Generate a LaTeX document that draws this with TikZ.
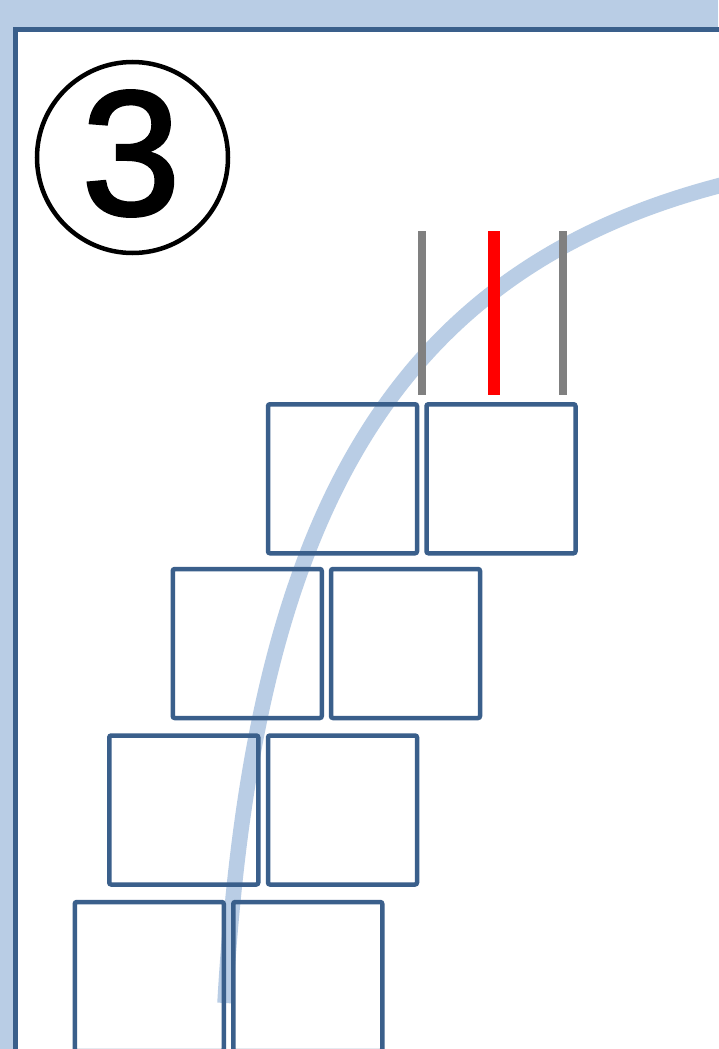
\documentclass[tikz,border=0pt]{standalone}
\usepackage{fontspec}
\setmainfont{Liberation Sans}
\newfontfamily\numfont{Liberation Sans}[FakeBold=2]
\definecolor{bgblue}{HTML}{B9CDE5}
\definecolor{frameblue}{HTML}{3A5F8B}
\definecolor{arcblue}{HTML}{B9CDE5}
\definecolor{markgray}{HTML}{808080}
\begin{document}
\begin{tikzpicture}[x=1pt,y=-1pt,
  cell/.style={draw=frameblue,line width=4.5pt,rounded corners=2pt,minimum size=149pt,inner sep=0pt,outer sep=0pt},
  graymark/.style={line width=8pt,draw=markgray},
  redmark/.style={line width=12pt,draw=red},
  arcband/.style={line width=15.5pt,draw=arcblue,line cap=butt}]
\useasboundingbox (0,0) rectangle (718,1049);
\fill[bgblue] (0,0) rectangle (718,1049);
\filldraw[fill=white,draw=frameblue,line width=5.5pt] (15.5,29.5) rectangle (780,1120);
% circled number
\draw[line width=4.5pt] (132.5,157.5) circle[radius=95.5pt];
\node[inner sep=0pt,font=\numfont\fontsize{177}{177}\selectfont] (num) at (131,153.5) {3};
% arc
\coordinate (arcS) at (225,1003);
\coordinate (arcE) at (718,186);
\coordinate (arcX) at (760,174.7);
\draw[arcband] (arcS) .. controls (252,530) and (384,274) .. (arcE) -- (arcX);
% boxes
\node[cell] (a) at (342.5,478.75) {};
\node[cell] (b) at (501,478.75) {};
\node[cell] (c) at (247.25,643.5) {};
\node[cell] (d) at (405.5,643.5) {};
\node[cell] (e) at (183.75,810) {};
\node[cell] (f) at (342.5,810) {};
\node[cell] (g) at (149.25,976.5) {};
\node[cell] (h) at (307.75,976.5) {};
% markers
\coordinate (g1t) at (422,231); \coordinate (g1b) at (422,395);
\coordinate (rt) at (494,231); \coordinate (rb) at (494,395);
\coordinate (g2t) at (563,231); \coordinate (g2b) at (563,395);
\draw[graymark] (g1t) -- (g1b);
\draw[redmark] (rt) -- (rb);
\draw[graymark] (g2t) -- (g2b);
\end{tikzpicture}
\end{document}
